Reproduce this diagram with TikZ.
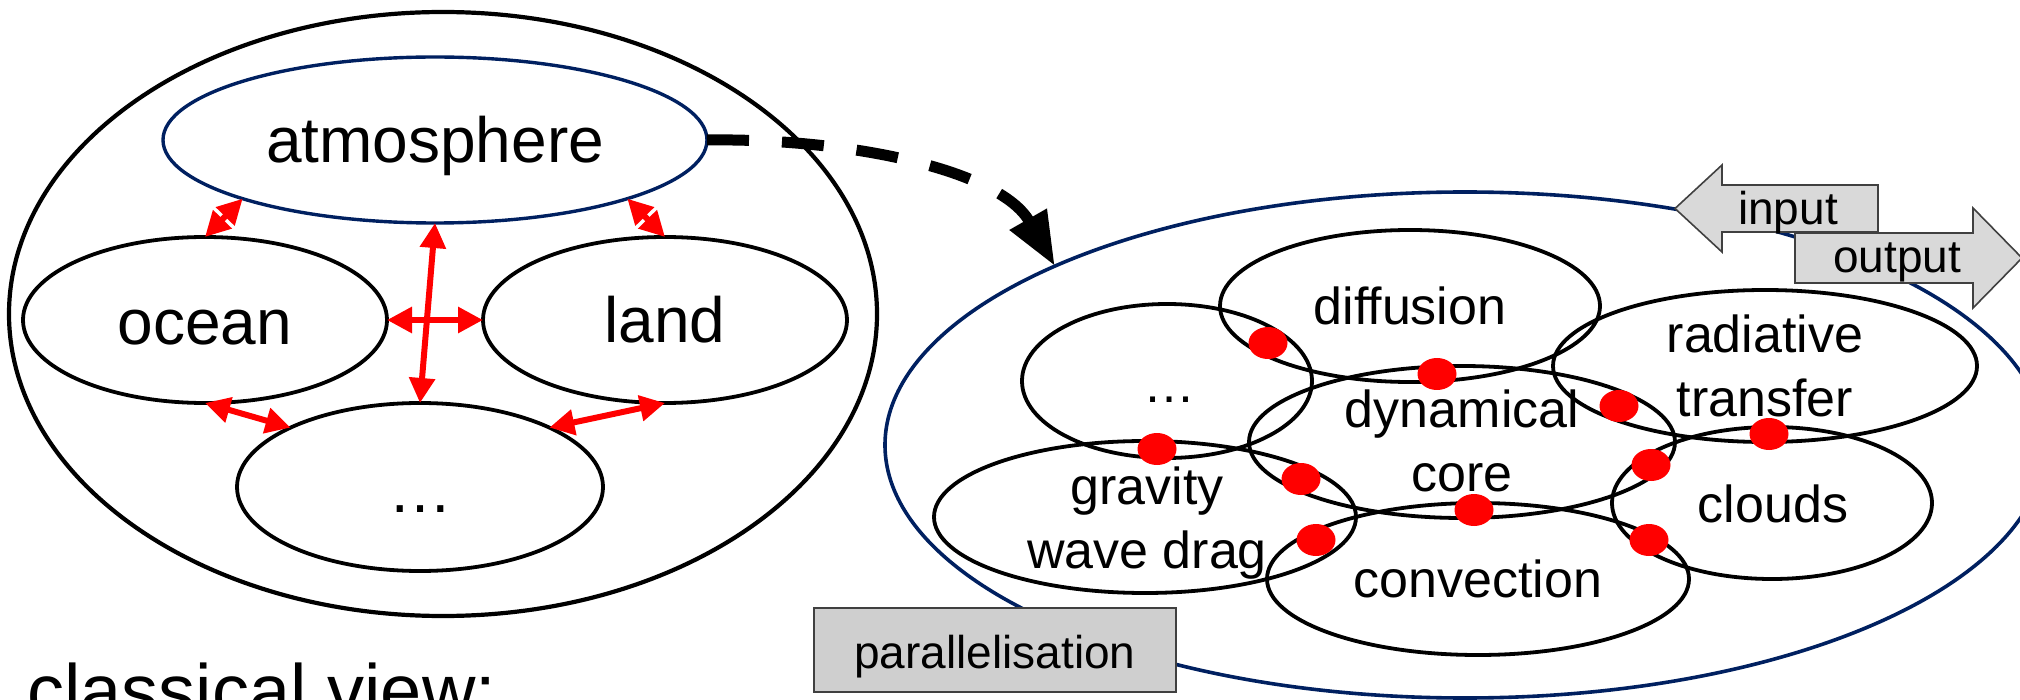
\documentclass[tikz,border=0pt]{standalone}
\usepackage{fontspec}
\setmainfont{Liberation Sans}
\usetikzlibrary{shapes.geometric,arrows.meta,calc}
\definecolor{navy}{RGB}{0,32,96}
\definecolor{boxgray}{RGB}{207,207,207}
\definecolor{arrgray}{RGB}{217,217,217}
\definecolor{edgegray}{RGB}{64,64,64}
\newcommand{\twoline}[1]{\begin{tabular}[t]{@{}c@{}}#1\end{tabular}}
\begin{document}
\begin{tikzpicture}[x=0.5pt,y=-0.5pt,
  ell/.style={ellipse, draw=black, line width=1.9pt, inner sep=0pt, outer sep=0pt},
  bigL/.style={font=\fontsize{32}{38}\selectfont, anchor=base, inner sep=0pt},
  midL/.style={font=\fontsize{26}{32}\selectfont, anchor=base, inner sep=0pt},
  smallL/.style={font=\fontsize{23}{28}\selectfont},
  rarr/.style={draw=red, line width=3pt, {Triangle[length=12.5pt,width=12.5pt]}-{Triangle[length=12.5pt,width=12.5pt]}},
  reddot/.style={ellipse, fill=red, draw=none, minimum width=19.5pt, minimum height=16pt, inner sep=0pt},
  blockarrow/.style={draw=edgegray, fill=arrgray, line width=0.8pt},
]
\useasboundingbox (0,0) rectangle (2020,700);

% ---------- classical view ----------
\node[ell, line width=2.1pt, minimum width=434pt, minimum height=302pt] (outer) at (443,314) {};
\node[ell, draw=navy, line width=1.7pt, minimum width=272pt, minimum height=83pt] (atm) at (435,140) {};
\node[ell, minimum width=182pt, minimum height=83pt] (ocean) at (205,320) {};
\node[ell, minimum width=182pt, minimum height=83pt] (land) at (665,320) {};
\node[ell, minimum width=183pt, minimum height=84pt] (etcL) at (420,487) {};

\node[bigL] (tatm) at ($(atm)+(0,23)$) {atmosphere};
\node[bigL] (tocean) at ($(ocean)+(0,25)$) {ocean};
\node[bigL] (tland) at ($(land)+(0,23)$) {land};
\node[bigL] (tetcL) at ($(etcL)+(0,25)$) {…};

\draw[rarr] (atm.south west) -- (ocean.north);
\draw[rarr] (atm.south east) -- (land.north);
\draw[rarr] (atm.south) -- (etcL.north);
\draw[rarr] (ocean.east) -- (land.west);
\draw[rarr] (ocean.south) -- (etcL.north west);
\draw[rarr] (land.south) -- (etcL.north east);

\node[font=\fontsize{37}{44}\selectfont, anchor=base west, inner sep=0pt] (cv) at (27,716) {classical view:};

% ---------- model view ----------
\node[ell, draw=navy, line width=1.8pt, minimum width=580pt, minimum height=253pt] (model) at (1465,445) {};

\draw[line width=5.5pt, dash pattern=on 21pt off 16.5pt, -{Triangle[length=27pt,width=20pt]}]
  (atm.east) .. controls (850,138) and (1000,170) .. (model.north west);

\node[ell, minimum width=190pt, minimum height=76pt] (diff) at (1410,306) {};
\node[ell, minimum width=145pt, minimum height=77pt] (etcR) at (1167,381) {};
\node[ell, minimum width=213pt, minimum height=76pt] (dyn) at (1462,442) {};
\node[ell, minimum width=212pt, minimum height=76pt] (rad) at (1765,366) {};
\node[ell, minimum width=211pt, minimum height=76pt] (grav) at (1145,517) {};
\node[ell, minimum width=211pt, minimum height=76pt] (conv) at (1478,579) {};
\node[ell, minimum width=160pt, minimum height=76pt] (cloud) at (1772,503) {};

\node[midL] (tdiff) at ($(diff)+(0,19)$) {diffusion};
\node[midL] (tetcR) at ($(etcR)+(2,21)$) {…};
\node[midL] (tdyn) at ($(dyn)+(0,-14)$) {\twoline{dynamical\\core}};
\node[midL] (trad) at ($(rad)+(0,-13)$) {\twoline{radiative\\transfer}};
\node[midL] (tgrav) at ($(grav)+(2,-13)$) {\twoline{gravity\\wave drag}};
\node[midL] (tcloud) at ($(cloud)+(1,19)$) {clouds};
\node[midL] (tconv) at ($(conv)+(0,18)$) {convection};

\node[reddot] (d1) at (1268,343) {};
\node[reddot] (d2) at (1437,374) {};
\node[reddot] (d3) at (1619,406) {};
\node[reddot] (d4) at (1769,434) {};
\node[reddot] (d5) at (1157,449) {};
\node[reddot] (d6) at (1301,479) {};
\node[reddot] (d7) at (1651,465) {};
\node[reddot] (d8) at (1474,510) {};
\node[reddot] (d9) at (1316,540) {};
\node[reddot] (d10) at (1649,540) {};

\node[draw=edgegray, fill=boxgray, line width=1pt, minimum width=181pt, minimum height=42pt,
      inner sep=0pt, smallL, text height=21.9pt, text depth=3.9pt] (par) at (995,650) {parallelisation};

\draw[blockarrow] (1675,208.5) -- (1722,165) -- (1722,185) -- (1878,185) -- (1878,232)
  -- (1722,232) -- (1722,252) -- cycle;
\node[smallL, anchor=base, inner sep=0pt] (tin) at (1788,225) {input};
\draw[blockarrow] (2022,258) -- (1973,208) -- (1973,233) -- (1795,233) -- (1795,283)
  -- (1973,283) -- (1973,308) -- cycle;
\node[smallL, anchor=base, inner sep=0pt] (tout) at (1897,273) {output};
\end{tikzpicture}
\end{document}
